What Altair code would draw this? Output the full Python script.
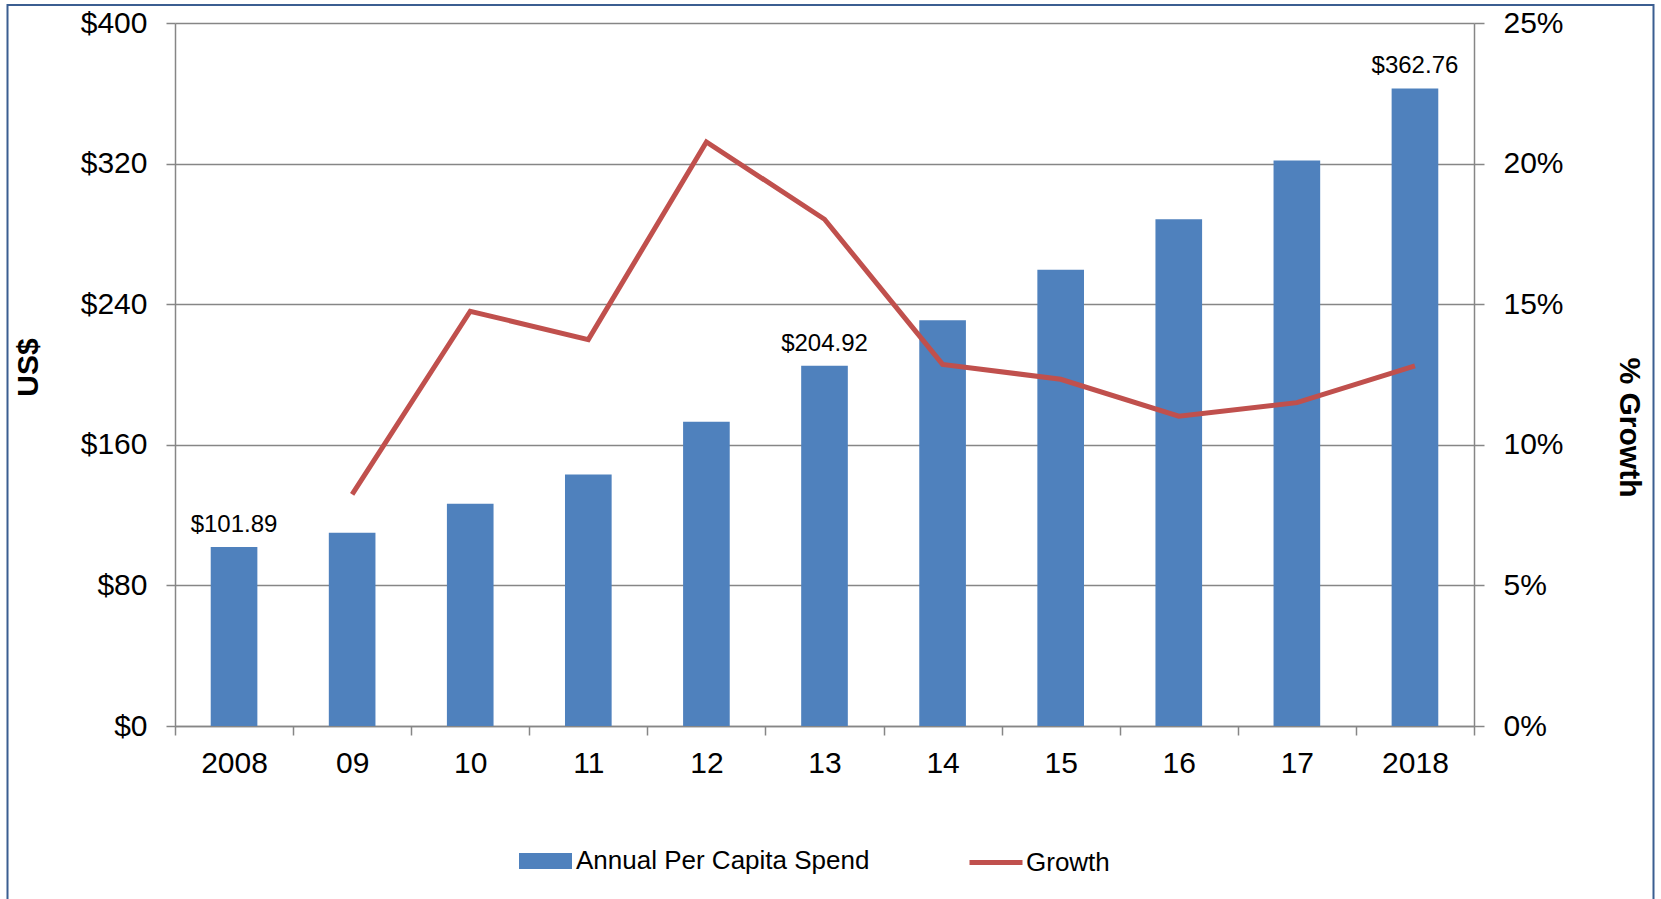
import altair as alt
import pandas as pd

# ---- data ----
years = ["2008", "09", "10", "11", "12", "13", "14", "15", "16", "17", "2018"]
spend = [101.89, 110.0, 126.5, 143.1, 173.1, 204.92, 230.8, 259.6, 288.4, 321.8, 362.76]
growth = [None, 0.0824, 0.1475, 0.1374, 0.2077, 0.1802, 0.1286, 0.1233, 0.1102, 0.1150, 0.1281]
labels = ["$101.89", "", "", "", "", "$204.92", "", "", "", "", "$362.76"]

df = pd.DataFrame({"year": years, "spend": spend, "growth": growth, "label": labels})

W, H = 1299, 703
FONT = "Liberation Sans, Arial, sans-serif"
GRAY = "#868686"
BLUE = "#4F81BD"
RED = "#C0504D"

x_enc = alt.X(
    "year:N",
    sort=years,
    scale=alt.Scale(paddingInner=0, paddingOuter=0),
    axis=alt.Axis(
        title=None,
        labelAngle=0,
        labelFontSize=30,
        labelFont=FONT,
        labelColor="black",
        labelPadding=13,
        tickBand="extent",
        tickSize=9,
        tickColor=GRAY,
        tickWidth=1.5,
        domainColor=GRAY,
        domainWidth=1.5,
        grid=False,
    ),
)

base = alt.Chart(df)

bars = base.transform_calculate(series="'Annual Per Capita Spend'").mark_bar(
    width=alt.RelativeBandSize(0.395), color=BLUE
).encode(
    x=x_enc,
    y=alt.Y(
        "spend:Q",
        scale=alt.Scale(domain=[0, 400], nice=False),
        axis=alt.Axis(
            title="US$",
            titleFont=FONT,
            titleFontSize=30,
            titleFontWeight="bold",
            titleColor="black",
            titleAngle=270,
            titleX=-147,
            titleY=344,
            titleBaseline="middle",
            titleAlign="center",
            values=[0, 80, 160, 240, 320, 400],
            format="$.0f",
            labelFont=FONT,
            labelFontSize=30,
            labelColor="black",
            labelPadding=19,
            tickSize=9,
            tickColor=GRAY,
            tickWidth=1.5,
            domainColor=GRAY,
            domainWidth=1.5,
            grid=True,
            gridColor=GRAY,
            gridWidth=1.5,
        ),
    ),
    fill=alt.Fill(
        "series:N",
        scale=alt.Scale(domain=["Annual Per Capita Spend"], range=[BLUE]),
        legend=alt.Legend(
            title=None,
            orient="none",
            legendX=344,
            legendY=811.5,
            padding=0,
            symbolType="M-1,-0.3H1V0.3H-1Z",
            symbolSize=2809,
            symbolStrokeWidth=0,
            symbolOpacity=1,
            labelFont=FONT,
            labelFontSize=26,
            labelColor="black",
            labelOffset=4,
            labelLimit=600,
        ),
    ),
)

text = base.transform_filter("datum.label != ''").mark_text(
    baseline="alphabetic", align="center", dy=-15, fontSize=24, font=FONT, color="black"
).encode(
    x=alt.X("year:N", sort=years),
    y=alt.Y("spend:Q", scale=alt.Scale(domain=[0, 400], nice=False)),
    text="label:N",
)

line = base.transform_calculate(series2="'Growth'").mark_line(
    strokeWidth=5, strokeJoin="miter"
).encode(
    x=alt.X("year:N", sort=years),
    y=alt.Y(
        "growth:Q",
        scale=alt.Scale(domain=[0, 0.25], nice=False),
        axis=alt.Axis(
            orient="right",
            title="% Growth",
            titleFont=FONT,
            titleFontSize=30,
            titleFontWeight="bold",
            titleColor="black",
            titleAngle=90,
            titleX=154,
            titleY=404,
            titleBaseline="middle",
            titleAlign="center",
            values=[0, 0.05, 0.10, 0.15, 0.20, 0.25],
            format=".0%",
            labelFont=FONT,
            labelFontSize=30,
            labelColor="black",
            labelPadding=19,
            tickSize=10,
            tickColor=GRAY,
            tickWidth=1.5,
            domainColor=GRAY,
            domainWidth=1.5,
            grid=False,
        ),
    ),
    stroke=alt.Stroke(
        "series2:N",
        scale=alt.Scale(domain=["Growth"], range=[RED]),
        legend=alt.Legend(
            title=None,
            orient="none",
            legendX=792,
            legendY=810.5,
            padding=0,
            symbolType="stroke",
            symbolSize=2809,
            symbolStrokeWidth=5,
            labelFont=FONT,
            labelFontSize=26,
            labelColor="black",
            labelOffset=1,
            labelLimit=600,
        ),
    ),
)

border = alt.Chart(pd.DataFrame({"a": [0]})).mark_rect(
    fillOpacity=0, stroke="#3B5E91", strokeWidth=2
).encode(
    x=alt.value(-167.5),
    x2=alt.value(1478.5),
    y=alt.value(-18),
    y2=alt.value(900),
)

chart = alt.layer(
    alt.layer(bars, text),
    line,
    border,
).resolve_scale(
    y="independent", fill="independent", stroke="independent"
).properties(
    width=W,
    height=H,
    autosize=alt.AutoSizeParams(type="none"),
    padding={"left": 175, "top": 23, "right": 187, "bottom": 173},
    background="white",
).configure_view(
    strokeWidth=0
)

chart.save("out.html", embed_options={"renderer": "svg", "actions": False})
